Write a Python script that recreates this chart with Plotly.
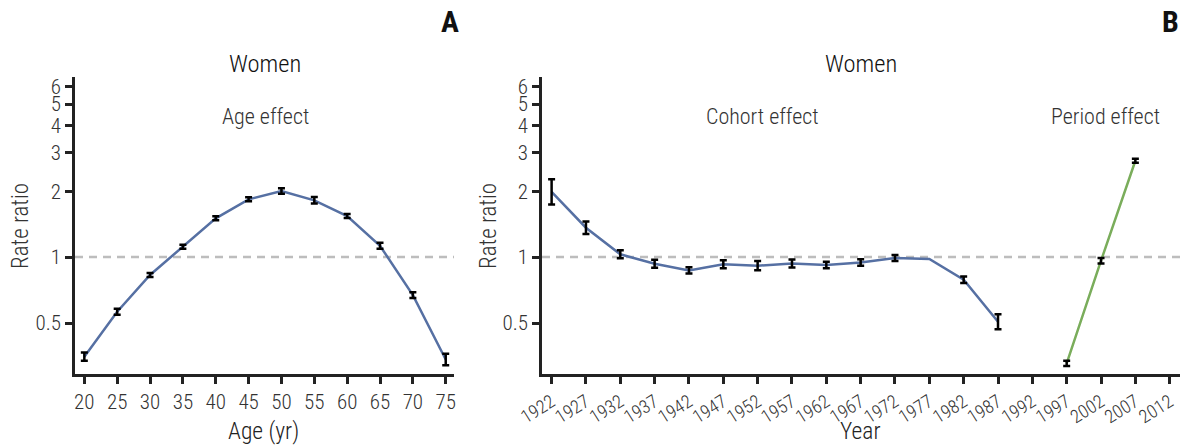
import plotly.graph_objects as go

# ---------------- data ----------------
age = [20, 25, 30, 35, 40, 45, 50, 55, 60, 65, 70, 75]
age_rr = [0.351, 0.563, 0.829, 1.115, 1.504, 1.836, 2.004, 1.817, 1.54, 1.127, 0.671, 0.341]
age_lo = [0.336, 0.546, 0.812, 1.092, 1.473, 1.798, 1.948, 1.756, 1.508, 1.092, 0.650, 0.321]
age_hi = [0.367, 0.581, 0.846, 1.138, 1.536, 1.875, 2.062, 1.881, 1.572, 1.163, 0.692, 0.362]

cohort = [1922, 1927, 1932, 1937, 1942, 1947, 1952, 1957, 1962, 1967, 1972, 1977, 1982, 1987]
cohort_rr = [1.987, 1.362, 1.03, 0.933, 0.870, 0.927, 0.914, 0.936, 0.920, 0.946, 0.991, 0.98, 0.788, 0.507]
cohort_lo = [1.741, 1.274, 0.988, 0.895, 0.841, 0.889, 0.870, 0.897, 0.889, 0.914, 0.960, None, 0.761, 0.469]
cohort_hi = [2.267, 1.456, 1.074, 0.973, 0.900, 0.967, 0.960, 0.976, 0.952, 0.979, 1.023, None, 0.816, 0.548]

period = [1997, 2002, 2007]
period_rr = [0.327, 0.963, 2.754]
period_lo = [0.318, 0.936, 2.697]
period_hi = [0.336, 0.991, 2.812]

y_ticks = [0.5, 1, 2, 3, 4, 5, 6]
y_ticktext = ["0.5", "1", "2", "3", "4", "5", "6"]
year_ticks = list(range(1922, 2013, 5))

# ---------------- style ----------------
FONT = "Roboto Condensed, Roboto, sans-serif"
LIGHT = 300
BLUE = "#5670a3"
GREEN = "#7aad5b"
AXIS = "#222222"
TXT = "#333333"
W, H = 1187, 446

fig = go.Figure()


def add_series(x, rr, lo, hi, color, xa, ya):
    fig.add_trace(go.Scatter(x=x, y=rr, mode="lines", line=dict(color=color, width=2.5),
                             xaxis=xa, yaxis=ya, showlegend=False, hoverinfo="skip"))
    ex, ey, up, dn = [], [], [], []
    for xi, r, l, h in zip(x, rr, lo, hi):
        if l is None or h is None:
            continue
        ex.append(xi); ey.append(r); up.append(h - r); dn.append(r - l)
    fig.add_trace(go.Scatter(x=ex, y=ey, mode="markers", marker=dict(size=1, opacity=0),
                             error_y=dict(type="data", array=up, arrayminus=dn, symmetric=False,
                                          color="#000000", thickness=2.5, width=3.5),
                             xaxis=xa, yaxis=ya, showlegend=False, hoverinfo="skip"))


add_series(age, age_rr, age_lo, age_hi, BLUE, "x", "y")
add_series(cohort, cohort_rr, cohort_lo, cohort_hi, BLUE, "x2", "y2")
add_series(period, period_rr, period_lo, period_hi, GREEN, "x2", "y2")

ydom = [1 - 374.3 / H, 1 - 77.3 / H]
yrange = [-0.535, 0.821]

common_axis = dict(showline=True, linecolor=AXIS, linewidth=2.5, ticks="outside", ticklen=7,
                   tickwidth=2.5, tickcolor=AXIS, showgrid=False, zeroline=False,
                   automargin=False, tickfont=dict(family=FONT, size=21, color=TXT, weight=LIGHT),
                   mirror=False)

fig.update_layout(
    width=W, height=H,
    margin=dict(l=0, r=0, t=0, b=0),
    paper_bgcolor="white", plot_bgcolor="white",
    font=dict(family=FONT, color=TXT, weight=LIGHT),
    xaxis=dict(domain=[75 / W, 454 / W], range=[18.58, 76.26], tickmode="array",
               tickvals=age, anchor="y", **common_axis),
    yaxis=dict(domain=ydom, type="log", range=yrange, tickmode="array", tickvals=y_ticks,
               ticktext=y_ticktext, anchor="x", **common_axis),
    xaxis2=dict(domain=[542 / W, 1180 / W], range=[1920.6, 2013.5], tickmode="array",
                tickvals=year_ticks, tickangle=-32, anchor="y2",
                **{**common_axis, "tickfont": dict(family=FONT, size=18.5, color=TXT, weight=LIGHT)}),
    yaxis2=dict(domain=ydom, type="log", range=yrange, tickmode="array", tickvals=y_ticks,
                ticktext=y_ticktext, anchor="x2", **common_axis),
)

# reference dashed line at rate ratio 1
for xr, yr in (("x domain", "y"), ("x2 domain", "y2")):
    fig.add_shape(type="line", xref=xr, yref=yr, x0=0, x1=1, y0=1, y1=1,
                  line=dict(color="#bdbdbd", width=2.5, dash="8px,6px"), layer="below")


def pann(text, px, py, size, color=TXT, angle=0, weight=LIGHT):
    return dict(text=text, xref="paper", yref="paper", x=px / W, y=1 - py / H,
                xanchor="center", yanchor="middle", showarrow=False, textangle=angle,
                font=dict(family=FONT, size=size, color=color, weight=weight))


ann = [
    pann("Women", 264.5, 63.5, 24.5, "#111111"),
    pann("Women", 861, 63.5, 24.5, "#111111"),
    pann("Rate ratio", 20, 226, 23, TXT, -90),
    pann("Rate ratio", 488, 226, 23, TXT, -90),
    pann("Age (yr)", 263, 431, 23.5, "#222222"),
    pann("Year", 860.5, 431, 23.5, "#222222"),
    pann("<b>A</b>", 450, 21, 30, "#111111", weight=700),
    pann("<b>B</b>", 1170, 21, 30, "#111111", weight=700),
    dict(text="Age effect", xref="x", yref="y", x=47.5, y=0.644, showarrow=False,
         font=dict(family=FONT, size=22, color=TXT, weight=LIGHT)),
    dict(text="Cohort effect", xref="x2", yref="y2", x=1952.7, y=0.644, showarrow=False,
         font=dict(family=FONT, size=22, color=TXT, weight=LIGHT)),
    dict(text="Period effect", xref="x2", yref="y2", x=2002.7, y=0.644, showarrow=False,
         font=dict(family=FONT, size=22, color=TXT, weight=LIGHT)),
]
fig.update_layout(annotations=ann)

fig.write_html("out.html", config={"displayModeBar": False},
               post_script="document.body.style.margin='0';")
